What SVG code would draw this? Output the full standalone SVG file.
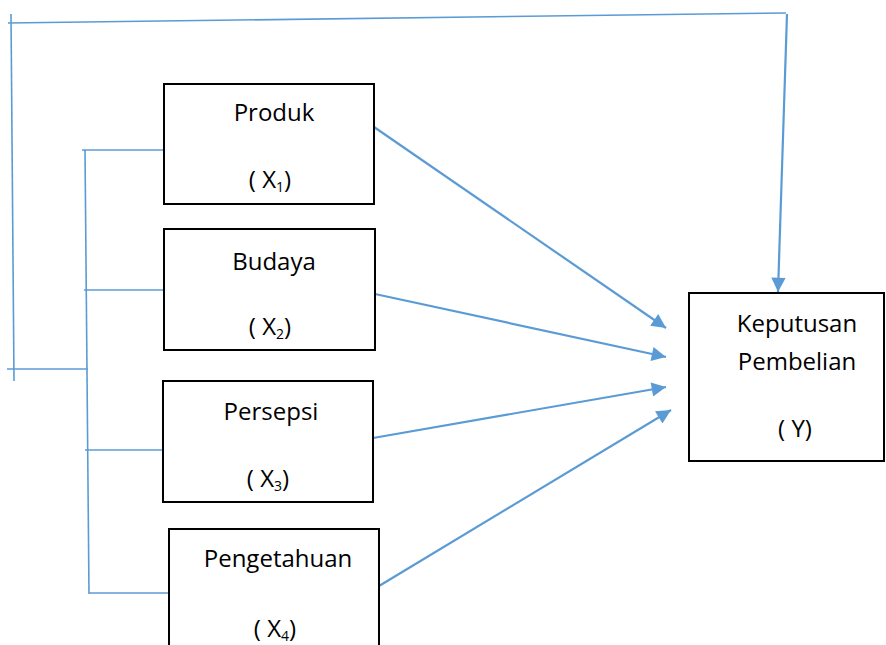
<svg xmlns="http://www.w3.org/2000/svg" width="886" height="645" viewBox="0 0 886 645">
  <style>
    .box { fill: #ffffff; stroke: #000000; stroke-width: 2; }
    .lbl { font-family: "Open Sans", "Liberation Sans", sans-serif; font-size: 24px; fill: #000000; text-anchor: middle; }
    .sub { font-size: 14px; }
    .ln { fill: none; stroke: #5B9BD5; stroke-width: 1.6; }
    .arr { fill: none; stroke: #5B9BD5; stroke-width: 2.2; marker-end: url(#head); }
  </style>
  <defs>
    <marker id="head" viewBox="0 0 10 10" refX="10" refY="5" markerWidth="7" markerHeight="6.5" markerUnits="strokeWidth" orient="auto">
      <path d="M0,0 L10,5 L0,10 Z" fill="#5B9BD5"/>
    </marker>
  </defs>

  <rect width="886" height="645" fill="#ffffff"/>

  <g id="connectors">
    <!-- outer loop to Y -->
    <path class="ln" d="M11,14 L14,381"/>
    <path class="ln" d="M8,23 L786,13"/>
    <path class="arr" d="M787,14 L778,292"/>
    <path class="ln" d="M7,369 L88,369"/>
    <!-- inner bracket joining X1..X4 -->
    <path class="ln" d="M85,150 L89,594"/>
    <path class="ln" d="M82,150 L163,150"/>
    <path class="ln" d="M84,290 L165,290"/>
    <path class="ln" d="M85,450 L166,450"/>
    <path class="ln" d="M89,593 L170,593"/>
    <!-- X -> Y -->
    <path class="arr" d="M374,127 L666,328"/>
    <path class="arr" d="M375,294 L666,357"/>
    <path class="arr" d="M373,438 L666,387"/>
    <path class="arr" d="M379,586 L671,410"/>
  </g>

  <g id="x1">
    <rect class="box" x="164" y="84" width="210" height="120"/>
    <text class="lbl" x="274" y="121">Produk</text>
    <text class="lbl" x="270" y="188">( X<tspan class="sub" dy="4">1</tspan><tspan dy="-4">)</tspan></text>
  </g>

  <g id="x2">
    <rect class="box" x="164" y="229" width="211" height="121"/>
    <text class="lbl" x="274" y="270">Budaya</text>
    <text class="lbl" x="270" y="335">( X<tspan class="sub" dy="4">2</tspan><tspan dy="-4">)</tspan></text>
  </g>

  <g id="x3">
    <rect class="box" x="163" y="381" width="210" height="121"/>
    <text class="lbl" x="271" y="420">Persepsi</text>
    <text class="lbl" x="268" y="487">( X<tspan class="sub" dy="4">3</tspan><tspan dy="-4">)</tspan></text>
  </g>

  <g id="x4">
    <rect class="box" x="169" y="529" width="210" height="130"/>
    <text class="lbl" x="278" y="567">Pengetahuan</text>
    <text class="lbl" x="275" y="637">( X<tspan class="sub" dy="4">4</tspan><tspan dy="-4">)</tspan></text>
  </g>

  <g id="y">
    <rect class="box" x="689" y="293" width="195" height="168"/>
    <text class="lbl" x="797" y="332">Keputusan</text>
    <text class="lbl" x="797" y="370">Pembelian</text>
    <text class="lbl" x="795" y="437">( Y)</text>
  </g>
</svg>
